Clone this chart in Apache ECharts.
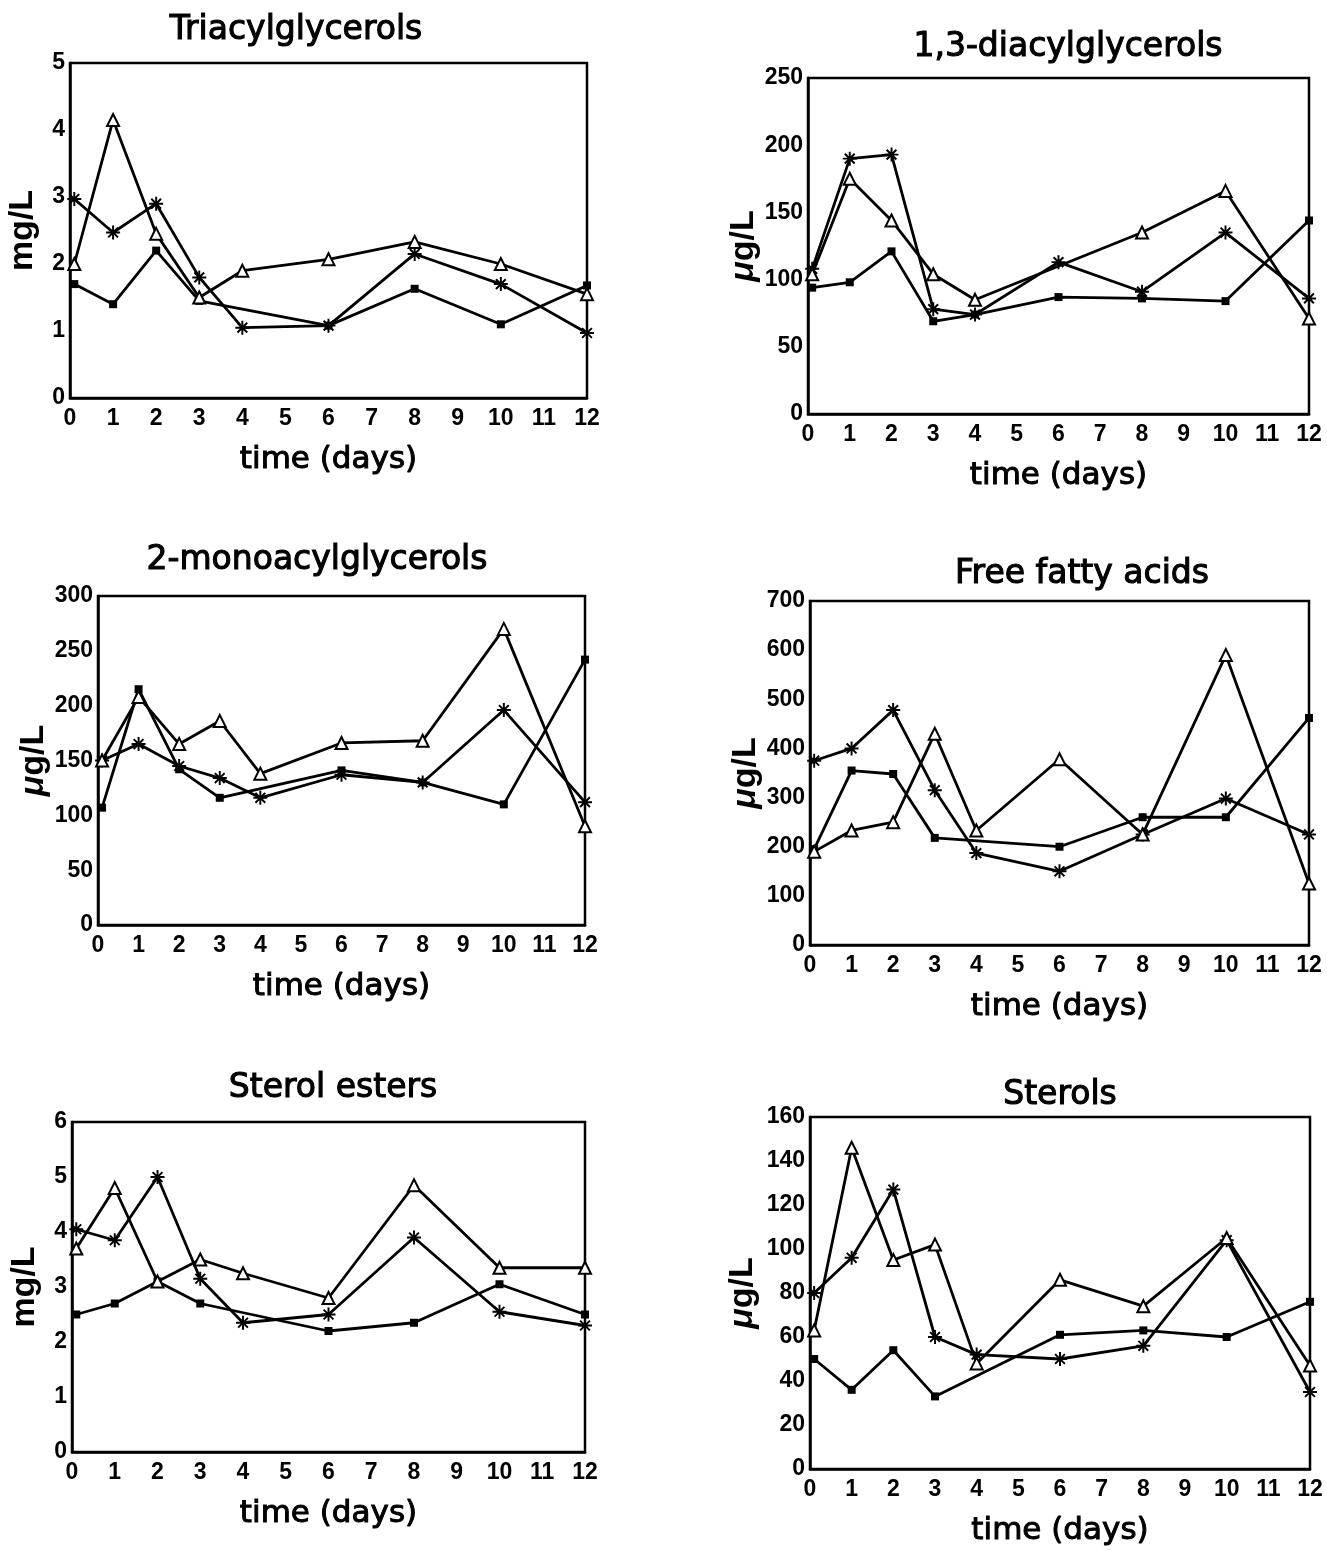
<!DOCTYPE html>
<html>
<head>
<meta charset="utf-8">
<title>Lipid classes vs time</title>
<script src="https://cdn.jsdelivr.net/npm/echarts@6/dist/echarts.min.js"></script>
<style>body{margin:0;background:#fff;}</style>
</head>
<body>
<div id="main" style="width:1327px;height:1550px;"></div>
<script>
// sampling days (first sample drawn just right of the axis, as in the figure)
var days = [0.1, 1, 2, 3, 4, 6, 8, 10, 12];

// Triacylglycerols (mg/L)
var tagSquare   = [1.7, 1.4, 2.2, 1.45, null, 1.08, 1.63, 1.1, 1.68];
var tagTriangle = [2.0, 4.15, 2.45, 1.5, 1.9, 2.07, 2.33, 2.0, 1.55];
var tagStar     = [2.97, 2.47, 2.9, 1.8, 1.05, 1.08, 2.15, 1.7, 0.97];

// 1,3-diacylglycerols (ug/L)
var dagSquare   = [94, 98, 121, 69, 74, 87, 86, 84, 144];
var dagTriangle = [104, 175, 144, 104, 85, null, 135, 166, 71];
var dagStar     = [108, 190, 193, 78, 74, 113, 91, 135, 86];

// 2-monoacylglycerols (ug/L)
var magSquare   = [107, 215, 142, 116, null, 141, 130, 110, 242];
var magTriangle = [150, 208, 165, 186, 138, 166, 168, 270, 90];
var magStar     = [150, 165, 145, 134, 116, 137, 130, 196, 112];

// Free fatty acids (ug/L)
var ffaSquare   = [195, 355, 348, 218, null, 200, 260, 260, 462];
var ffaTriangle = [190, 233, 250, 430, 233, 378, 225, 590, 125];
var ffaStar     = [375, 400, 478, 315, 187, 150, 225, 298, 225];

// Sterol esters (mg/L)
var seSquare   = [2.5, 2.7, 3.1, 2.7, null, 2.2, 2.35, 3.05, 2.5];
var seTriangle = [3.7, 4.8, 3.1, 3.5, 3.25, 2.8, 4.85, 3.35, 3.35];
var seStar     = [4.05, 3.85, 5.0, 3.15, 2.35, 2.5, 3.9, 2.55, 2.3];

// Sterols (ug/L)
var stSquare   = [50, 36, 54, 33, null, 61, 63, 60, 76];
var stTriangle = [63, 146, 95, 102, 48, 86, 74, 105, 47];
var stStar     = [80, 96, 127, 60, 52, 50, 56, 104, 35];

var titles = ['Triacylglycerols', '1,3-diacylglycerols', '2-monoacylglycerols',
              'Free fatty acids', 'Sterol esters', 'Sterols'];
var units = ['mg/L', 'ug', 'ug', 'ug', 'mg/L', 'ug'];
var yMax = [5, 250, 300, 700, 6, 160];
var yStep = [1, 50, 50, 100, 1, 20];
var squares = [tagSquare, dagSquare, magSquare, ffaSquare, seSquare, stSquare];
var triangles = [tagTriangle, dagTriangle, magTriangle, ffaTriangle, seTriangle, stTriangle];
var stars = [tagStar, dagStar, magStar, ffaStar, seStar, stStar];

// layout of the six panels
var boxes = [
    {left: 70,  top: 63,   width: 517, height: 335, nameGap: 30, titleX: 296,  titleY: 30},
    {left: 808, top: 78,   width: 501, height: 336, nameGap: 44, titleX: 1068, titleY: 47},
    {left: 98,  top: 596,  width: 487, height: 329, nameGap: 34, titleX: 317,  titleY: 560},
    {left: 810, top: 601,  width: 499, height: 344, nameGap: 46, titleX: 1082, titleY: 574},
    {left: 72,  top: 1122, width: 513, height: 330, nameGap: 30, titleX: 333,  titleY: 1088},
    {left: 810, top: 1117, width: 500, height: 352, nameGap: 50, titleX: 1060, titleY: 1095}
];

var FONT = '"Liberation Sans", Arial, sans-serif';
var WIDE = '"DejaVu Sans", sans-serif';

// matlab-like asterisk: plus and cross overlaid
var asterisk = 'path://M8.6 0L11.4 0L11.4 20L8.6 20Z' +
    'M0 8.6L20 8.6L20 11.4L0 11.4Z' +
    'M4 2L18 16L16 18L2 4Z' +
    'M16 2L18 4L4 18L2 16Z';

function pairs(ys) {
    var out = [];
    for (var i = 0; i < ys.length; i++) {
        if (ys[i] !== null) out.push([days[i], ys[i]]);
    }
    return out;
}

var grid = [], xAxis = [], yAxis = [], series = [], graphic = [];

for (var p = 0; p < 6; p++) {
    var b = boxes[p];
    grid.push({
        left: b.left, top: b.top, width: b.width, height: b.height,
        show: true, borderColor: '#000', borderWidth: 2.5, backgroundColor: 'transparent'
    });
    xAxis.push({
        type: 'value', gridIndex: p, min: 0, max: 12, interval: 1,
        name: 'time (days)', nameLocation: 'middle', nameGap: 46,
        nameTextStyle: {fontFamily: WIDE, fontSize: 31, color: '#000',
                        textBorderColor: '#000', textBorderWidth: 1},
        axisLine: {show: true, lineStyle: {color: '#000', width: 2.5}},
        axisTick: {show: false},
        splitLine: {show: false},
        axisLabel: {
            fontFamily: FONT, fontSize: 23, fontWeight: 'bold', color: '#000', margin: 9,
            formatter: function (v) { return v; }
        }
    });
    var yname = units[p] === 'ug' ? '{mu|\u03bc}g/L' : units[p];
    yAxis.push({
        type: 'value', gridIndex: p, min: 0, max: yMax[p], interval: yStep[p],
        name: yname, nameLocation: 'middle', nameGap: b.nameGap,
        nameTextStyle: {
            fontFamily: FONT, fontSize: 34, fontWeight: 'bold', color: '#000',
            rich: {mu: {fontFamily: FONT, fontSize: 34, fontWeight: 'bold', fontStyle: 'italic', color: '#000'}}
        },
        axisLine: {show: true, lineStyle: {color: '#000', width: 2.5}},
        axisTick: {show: false},
        splitLine: {show: false},
        axisLabel: {fontFamily: FONT, fontSize: 23, fontWeight: 'bold', color: '#000', margin: 5}
    });
    series.push({
        type: 'line', xAxisIndex: p, yAxisIndex: p, data: pairs(squares[p]),
        symbol: 'rect', symbolSize: 8,
        lineStyle: {color: '#000', width: 2.8},
        itemStyle: {color: '#000'}, animation: false
    });
    series.push({
        type: 'line', xAxisIndex: p, yAxisIndex: p, data: pairs(stars[p]),
        symbol: asterisk, symbolSize: 14, symbolKeepAspect: true,
        lineStyle: {color: '#000', width: 2.8},
        itemStyle: {color: '#000'}, animation: false
    });
    series.push({
        type: 'line', xAxisIndex: p, yAxisIndex: p, data: pairs(triangles[p]),
        symbol: 'emptyTriangle', symbolSize: 12,
        lineStyle: {color: '#000', width: 2.8},
        itemStyle: {color: '#000', borderColor: '#000', borderWidth: 1.5}, animation: false
    });
    graphic.push({
        type: 'text', x: b.titleX, y: b.titleY,
        style: {
            text: titles[p], fill: '#000', align: 'center', verticalAlign: 'middle',
            font: '33px ' + WIDE, stroke: '#000', lineWidth: 1.1
        }
    });
}

var myChart = echarts.init(document.getElementById('main'));
myChart.setOption({
    backgroundColor: '#fff',
    animation: false,
    grid: grid,
    xAxis: xAxis,
    yAxis: yAxis,
    series: series,
    graphic: graphic
});
</script>
</body>
</html>
